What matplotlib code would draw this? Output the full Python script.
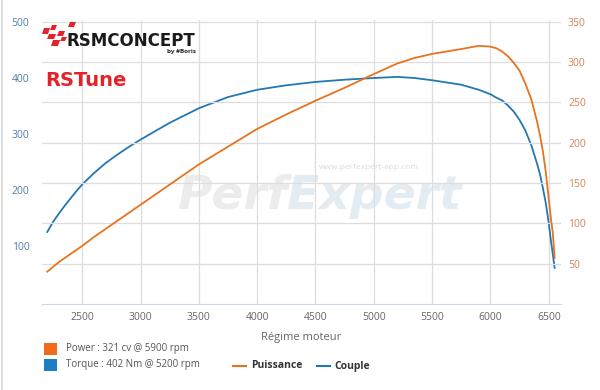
import matplotlib.pyplot as plt
from matplotlib.patches import Polygon, Rectangle
from matplotlib.lines import Line2D

# engine speed (rpm) and the two curves
rpm = [2200, 2250, 2300, 2350, 2400, 2450, 2500, 2600, 2700, 2800, 2900, 3000,
       3250, 3500, 3750, 4000, 4250, 4500, 4750, 5000, 5200, 5350, 5500, 5750,
       5900, 6000, 6050, 6100, 6150, 6200, 6250, 6300, 6350, 6400, 6425, 6450,
       6475, 6500, 6520, 6535, 6550]
torque = [125, 143, 158, 172, 185, 198, 210, 230, 248, 263, 277, 290,
          320, 346, 366, 379, 387, 393, 397, 400, 402, 400, 396, 388,
          379, 371, 365, 360, 351, 340, 325, 306, 280, 247, 228, 203,
          176, 141, 107, 85, 61]
power = [40, 46, 52, 57, 62, 67, 72, 83, 93, 103, 113, 123,
         148, 173, 195, 217, 235, 252, 268, 285, 298, 305, 310, 316,
         320, 319, 317, 313, 307, 299, 289, 273, 254, 226, 209, 189,
         163, 130, 104, 88, 57]

x_ticks = [2500, 3000, 3500, 4000, 4500, 5000, 5500, 6000, 6500]
torque_ticks = [100, 200, 300, 400, 500]
power_ticks = [50, 100, 150, 200, 250, 300, 350]

orange = '#e8731e'
blue = '#2377b3'

plt.rcParams['font.family'] = ['Open Sans', 'DejaVu Sans']

fig = plt.figure(figsize=(6, 3.9), dpi=100)
W, H = 600, 390


def px(x, y):
    # pixel coords (top-left origin) -> figure fraction
    return (x / W, 1 - y / H)


ax = fig.add_axes([42 / W, 1 - 304 / H, (561 - 42) / W, (304 - 20) / H])
ax2 = ax.twinx()

ax.set_xlim(2155, 6605)
ax.set_ylim(-3.6, 503.6)
ax2.set_ylim(0, 352)

ax.set_zorder(1)
ax2.set_zorder(2)
ax2.patch.set_visible(False)

# grid
ax.set_xticks(x_ticks)
ax.grid(axis='x', color='#dddddd', linewidth=0.9)
ax.grid(axis='y', visible=False)
ax2.set_yticks(power_ticks)
ax2.grid(axis='y', color='#dddddd', linewidth=0.9)
ax.set_yticks(torque_ticks)

for a in (ax, ax2):
    for s in a.spines.values():
        s.set_visible(False)
ax.spines['bottom'].set_visible(True)
ax.spines['bottom'].set_color('#ccd6eb')

ax.tick_params(axis='x', length=0, labelsize=7.5, labelcolor='#666666', pad=6)
ax.tick_params(axis='y', length=0, labelsize=7.5, labelcolor='#4f7faa', pad=9)
ax2.tick_params(axis='y', length=0, labelsize=7.5, labelcolor='#d3835a', pad=5)
ax.set_xlabel('Régime moteur', fontsize=8, color='#666666', labelpad=6)

# watermark
ax.text(0.472, 0.38, 'Perf', transform=ax.transAxes, fontsize=34, fontweight='bold',
        style='italic', color='#ececec', ha='right', va='center', zorder=0.5,
        family='DejaVu Sans')
ax.text(0.472, 0.38, 'Expert', transform=ax.transAxes, fontsize=34, fontweight='bold',
        style='italic', color='#e4ecf3', ha='left', va='center', zorder=0.5,
        family='DejaVu Sans')
ax.text(0.63, 0.48, 'www.perfexpert-app.com', transform=ax.transAxes, fontsize=6,
        color='#dadada', ha='center', va='center', zorder=0.5)

# curves
ax.plot(rpm, torque, color=blue, linewidth=1.3, zorder=2)
ax2.plot(rpm, power, color=orange, linewidth=1.3, zorder=2)

# logo
red = '#e2242a'
for (x0, y0, w, h) in [(42, 28, 6, 6), (50, 25, 5, 5), (68, 22, 6, 5),
                       (47, 34, 7, 5), (57, 31, 6, 5), (51, 40, 7, 6),
                       (60, 37, 5, 4)]:
    sk = 2
    pts = [px(x0 + sk, y0), px(x0 + w + sk, y0), px(x0 + w, y0 + h), px(x0, y0 + h)]
    fig.add_artist(Polygon(pts, closed=True, transform=fig.transFigure,
                           color=red, lw=0, zorder=10))
fig.text(*px(67, 41), 'RSMCONCEPT', fontsize=12, fontweight='bold', color='#1a1a1a',
         ha='left', va='center', family='DejaVu Sans', zorder=10)
fig.text(*px(181, 52), 'by #Boris', fontsize=4.5, fontweight='bold', color='#222222',
         ha='center', va='center', zorder=10)
fig.text(*px(45, 81), 'RSTune', fontsize=14, fontweight='bold', color=red,
         ha='left', va='center', family='DejaVu Sans', zorder=10)

# bottom legend
fig.add_artist(Rectangle(px(44, 355), 13 / W, 12 / H, transform=fig.transFigure,
                         color='#f26b1d', lw=0))
fig.add_artist(Rectangle(px(44, 371), 13 / W, 12 / H, transform=fig.transFigure,
                         color='#1f7dc1', lw=0))
fig.text(*px(66, 349), 'Power : 321 cv @ 5900 rpm', fontsize=7, color='#555555',
         ha='left', va='center')
fig.text(*px(66, 364), 'Torque : 402 Nm @ 5200 rpm', fontsize=7, color='#555555',
         ha='left', va='center')
fig.add_artist(Line2D([233 / W, 246 / W], [1 - 366 / H] * 2, color=orange, lw=1.5,
                      transform=fig.transFigure))
fig.text(*px(251, 366), 'Puissance', fontsize=7.5, fontweight='bold', color='#333333',
         ha='left', va='center')
fig.add_artist(Line2D([317 / W, 330 / W], [1 - 366 / H] * 2, color=blue, lw=1.5,
                      transform=fig.transFigure))
fig.text(*px(334, 366), 'Couple', fontsize=7.5, fontweight='bold', color='#333333',
         ha='left', va='center')

# chart frame edge on the left
fig.add_artist(Line2D([2 / W, 2 / W], [0, 1], color='#d8d8d8', lw=1.2,
                      transform=fig.transFigure))

fig.savefig('out.png', dpi=100)
